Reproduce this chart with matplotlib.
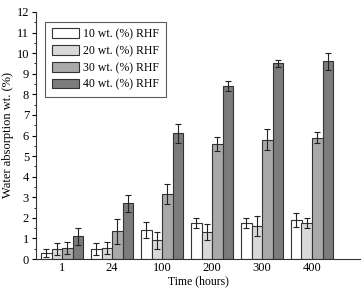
import matplotlib
matplotlib.use("Agg")
import matplotlib.pyplot as plt
import numpy as np
from matplotlib.ticker import MultipleLocator

plt.rcParams['font.family'] = ['Liberation Serif', 'DejaVu Serif']

times = ["1", "24", "100", "200", "300", "400"]
series = ["10 wt. (%) RHF", "20 wt. (%) RHF", "30 wt. (%) RHF", "40 wt. (%) RHF"]
vals10 = [0.3, 0.5, 1.4, 1.75, 1.75, 1.9]
err10 = [0.2, 0.3, 0.4, 0.25, 0.25, 0.35]
vals20 = [0.5, 0.55, 0.9, 1.3, 1.6, 1.75]
err20 = [0.3, 0.3, 0.4, 0.4, 0.5, 0.25]
vals30 = [0.55, 1.35, 3.15, 5.6, 5.8, 5.9]
err30 = [0.3, 0.6, 0.5, 0.35, 0.5, 0.25]
vals40 = [1.1, 2.7, 6.1, 8.4, 9.5, 9.6]
err40 = [0.4, 0.4, 0.45, 0.25, 0.15, 0.4]
colors = ["#ffffff", "#d9d9d9", "#a9a9a9", "#7c7c7c"]

fig = plt.figure(figsize=(3.61, 2.88), dpi=100)
ax = fig.add_axes([36/361, 29/288, 1 - 36/361, (259-12)/288])

x = np.arange(len(times))
w = 0.21
allv = [vals10, vals20, vals30, vals40]
alle = [err10, err20, err30, err40]
for i, (v, e, c, lab) in enumerate(zip(allv, alle, colors, series)):
    ax.bar(x + (i - 1.5) * w, v, w, yerr=e, color=c, edgecolor="#333333",
           linewidth=0.8, label=lab,
           error_kw=dict(ecolor="#222222", elinewidth=0.8, capsize=2.5, capthick=0.8))

ax.set_xlim(-0.52, 5.98)
ax.set_ylim(0, 12)
ax.set_xticks(x)
ax.set_xticklabels(times, fontsize=9)
ax.tick_params(axis='x', length=0, pad=2.5)
ax.yaxis.set_major_locator(MultipleLocator(1))
ax.yaxis.set_minor_locator(MultipleLocator(0.5))
ax.tick_params(axis='y', labelsize=9, length=3, width=0.8, pad=2)
ax.tick_params(axis='y', which='minor', length=1.5, width=0.6)
ax.spines['top'].set_visible(False)
ax.spines['right'].set_visible(False)
ax.spines['left'].set_color("#333333")
ax.spines['bottom'].set_color("#333333")
ax.set_ylabel("Water absorption wt. (%)", fontsize=9, labelpad=2)
ax.set_xlabel("Time (hours)", fontsize=8.5, labelpad=0.5)

leg = ax.legend(loc='upper left', bbox_to_anchor=(0.028, 0.96), fontsize=8.5,
                frameon=True, fancybox=False, edgecolor="#333333",
                handlelength=2.3, handleheight=0.9, labelspacing=0.4,
                borderpad=0.55, handletextpad=0.4, borderaxespad=0)
leg.get_frame().set_linewidth(0.8)

fig.savefig("out.png", dpi=100)
